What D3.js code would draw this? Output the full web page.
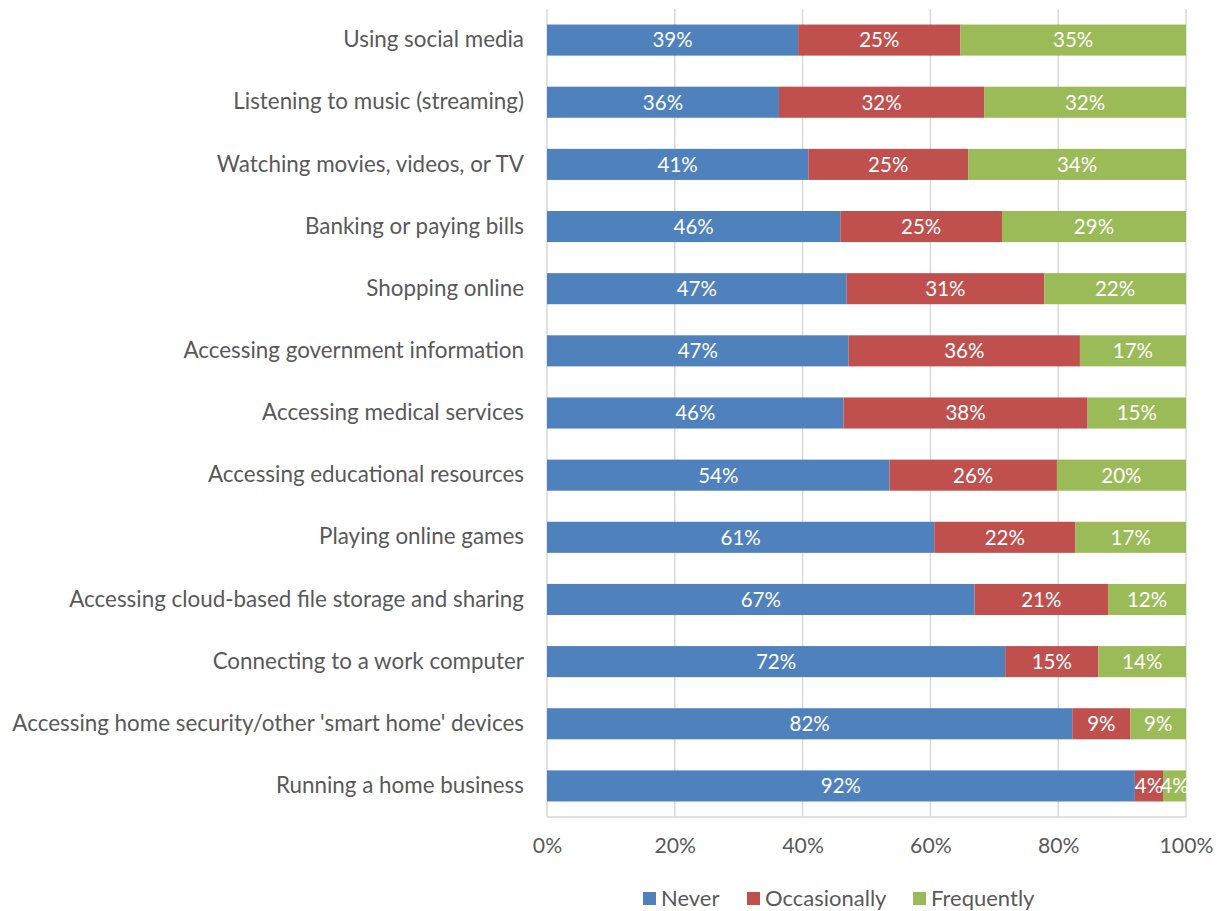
<!DOCTYPE html>
<html>
<head>
<meta charset="utf-8">
<script src="https://cdn.jsdelivr.net/npm/d3@7"></script>
<style>
  html, body { margin: 0; padding: 0; background: #fff; }
  svg { display: block; font-family: Lato, "Open Sans", sans-serif; }
</style>
</head>
<body>
<svg id="chart" width="1220" height="911"></svg>
<script>
const categories = [
  "Using social media",
  "Listening to music (streaming)",
  "Watching movies, videos, or TV",
  "Banking or paying bills",
  "Shopping online",
  "Accessing government information",
  "Accessing medical services",
  "Accessing educational resources",
  "Playing online games",
  "Accessing cloud-based file storage and sharing",
  "Connecting to a work computer",
  "Accessing home security/other 'smart home' devices",
  "Running a home business"
];
const seriesNames = ["Never", "Occasionally", "Frequently"];
const never        = [39.3, 36.3, 40.9, 45.9, 46.9, 47.2, 46.4, 53.6, 60.6, 66.9, 71.7, 82.2, 92.0];
const occasionally = [25.4, 32.1, 25.0, 25.3, 30.9, 36.2, 38.2, 26.2, 22.1, 20.9, 14.6, 9.1, 4.4];
const frequently   = [35.3, 31.6, 34.1, 28.8, 22.2, 16.6, 15.4, 20.2, 17.3, 12.2, 13.7, 8.7, 3.6];
const tickValues = [0, 20, 40, 60, 80, 100];
const colors = ["#4F81BD", "#C0504D", "#9BBB59"];

const svg = d3.select("#chart");
const margin = { left: 547, right: 34, top: 9, bottom: 94 };
const W = 1220, H = 911;

const rows = categories.map((c, i) => ({ cat: c, Never: never[i], Occasionally: occasionally[i], Frequently: frequently[i] }));
const stack = d3.stack().keys(seriesNames)(rows);

const x = d3.scaleLinear().domain([0, 100]).range([margin.left, W - margin.right]);
const y = d3.scaleBand().domain(categories).range([margin.top, H - margin.bottom]).paddingInner(0.5).paddingOuter(0.25);
const color = d3.scaleOrdinal().domain(seriesNames).range(colors);

// gridlines
svg.append("g").selectAll("line").data(tickValues).join("line")
  .attr("x1", d => x(d)).attr("x2", d => x(d))
  .attr("y1", margin.top).attr("y2", H - margin.bottom)
  .attr("stroke", "#d9d9d9").attr("stroke-width", 1.5);

// bottom axis line
svg.append("line")
  .attr("x1", x(0)).attr("x2", x(100))
  .attr("y1", H - margin.bottom).attr("y2", H - margin.bottom)
  .attr("stroke", "#d9d9d9").attr("stroke-width", 1.5);

// bars
const groups = svg.append("g").selectAll("g").data(stack).join("g")
  .attr("fill", d => color(d.key));
groups.selectAll("rect").data(d => d).join("rect")
  .attr("x", d => x(d[0]))
  .attr("width", d => x(d[1]) - x(d[0]))
  .attr("y", d => y(d.data.cat))
  .attr("height", y.bandwidth());

// data labels
const labels = svg.append("g");
stack.forEach(s => {
  labels.selectAll(null).data(s).join("text")
    .attr("x", d => (x(d[0]) + x(d[1])) / 2)
    .attr("y", d => y(d.data.cat) + y.bandwidth() / 2)
    .attr("dy", "0.36em")
    .attr("text-anchor", "middle")
    .attr("fill", "#fff")
    .attr("font-size", 20.5)
    .text(d => Math.round(d[1] - d[0]) + "%");
});

// category axis
const yAxis = svg.append("g").attr("transform", `translate(${margin.left},0)`)
  .call(d3.axisLeft(y).tickSize(0).tickPadding(23));
yAxis.select(".domain").remove();
yAxis.selectAll("text").attr("font-size", 22.4).attr("fill", "#595959")
  .attr("font-family", "Lato, 'Open Sans', sans-serif");

// x axis
const xAxis = svg.append("g").attr("transform", `translate(0,${H - margin.bottom})`)
  .call(d3.axisBottom(x).tickValues(tickValues).tickFormat(d => d + "%").tickSize(0).tickPadding(21));
xAxis.select(".domain").remove();
xAxis.selectAll("text").attr("font-size", 21.2).attr("fill", "#595959")
  .attr("font-family", "Lato, 'Open Sans', sans-serif");

// legend
const legendX = [643, 747, 913];
const legend = svg.append("g");
seriesNames.forEach((n, i) => {
  legend.append("rect").attr("x", legendX[i]).attr("y", 892).attr("width", 13).attr("height", 13).attr("fill", colors[i]);
  legend.append("text").attr("x", legendX[i] + 18).attr("y", 898).attr("dy", "0.36em")
    .attr("font-size", 22).attr("fill", "#595959").text(n);
});
</script>
</body>
</html>
